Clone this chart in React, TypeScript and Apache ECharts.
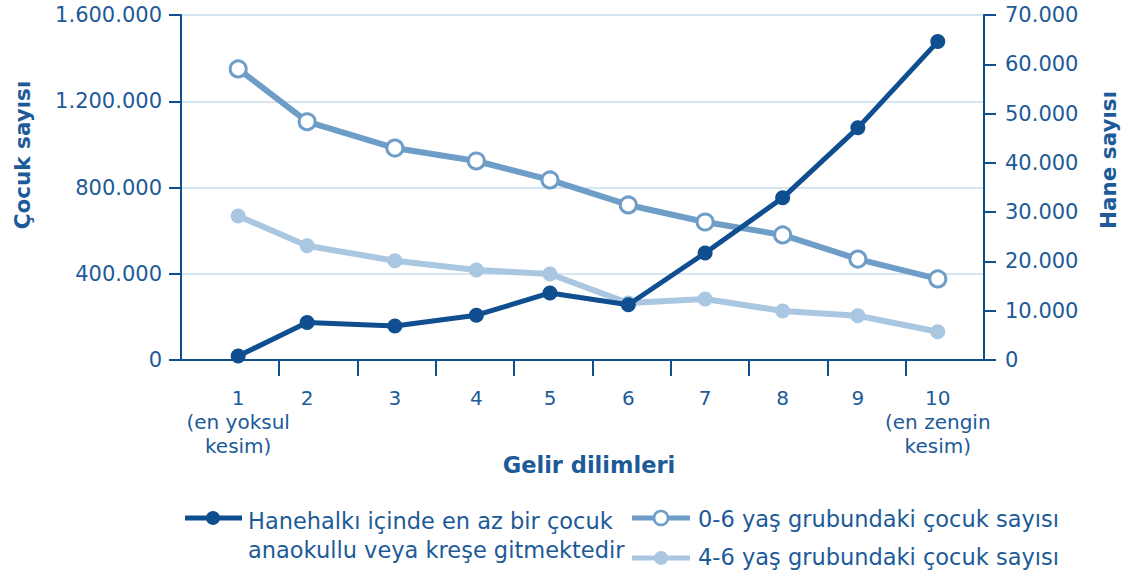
import React, { useEffect, useRef } from "react";
import * as echarts from "echarts";

// Income deciles (position of each point along the horizontal axis)
const categories = ["1", "2", "3", "4", "5", "6", "7", "8", "9", "10"];
const categoryNotes: Record<number, string> = { 0: "(en yoksul\nkesim)", 9: "(en zengin\nkesim)" };
const xPositions = [0.73, 1.61, 2.73, 3.77, 4.71, 5.71, 6.69, 7.68, 8.64, 9.66];
const xTickPositions = [1.25, 2.25, 3.25, 4.25, 5.25, 6.25, 7.25, 8.25, 9.25];

// Households with at least one child in kindergarten / nursery (right axis)
const households = [800, 7600, 6900, 9100, 13600, 11200, 21700, 32900, 47100, 64600];
// Number of children aged 0-6 (left axis)
const children06 = [1350000, 1105000, 983000, 923000, 835000, 719000, 640000, 580000, 468000, 376000];
// Number of children aged 4-6 (left axis)
const children46 = [668000, 530000, 460000, 417000, 399000, 264000, 283000, 227000, 205000, 131000];

const leftMax = 1600000;
const leftInterval = 400000;
const rightMax = 70000;
const rightInterval = 10000;

const seriesNames = [
  "Hanehalkı içinde en az bir çocuk\nanaokullu veya kreşe gitmektedir",
  "0-6 yaş grubundaki çocuk sayısı",
  "4-6 yaş grubundaki çocuk sayısı",
];

const DARK = "#0f4f8f";
const TEXT = "#1d5a98";
const MID = "#6e9dc8";
const LIGHT = "#a9c7e0";
const GRID = "#c9ddee";
const FONT = "'DejaVu Sans', 'Open Sans', sans-serif";

const fmt = (v: number) => String(v).replace(/\B(?=(\d{3})+(?!\d))/g, ".");

export default function App() {
  const ref = useRef<HTMLDivElement>(null);
  useEffect(() => {
    if (!ref.current) return;
    const chart = echarts.init(ref.current, null, { renderer: "svg" });
    const pts = (vals: number[]) => xPositions.map((x, i) => [x, vals[i]]);
    chart.setOption({
      animation: false,
      backgroundColor: "#ffffff",
      textStyle: { fontFamily: FONT },
      grid: { left: 181, right: 144, top: 15, bottom: 221 },
      xAxis: {
        type: "value",
        min: 0,
        max: 10.25,
        splitLine: { show: false },
        axisLine: { show: true, lineStyle: { color: DARK, width: 2 } },
        axisTick: {
          show: true,
          length: 16,
          customValues: xTickPositions,
          lineStyle: { color: DARK, width: 2 },
        },
        axisLabel: {
          customValues: xPositions,
          margin: 26,
          color: TEXT,
          fontFamily: FONT,
          fontSize: 20,
          lineHeight: 24,
          align: "center",
          verticalAlign: "top",
          formatter: (v: number) => {
            let idx = 0;
            let best = Infinity;
            xPositions.forEach((x, i) => {
              const d = Math.abs(x - v);
              if (d < best) { best = d; idx = i; }
            });
            const note = categoryNotes[idx];
            return note ? categories[idx] + "\n" + note : categories[idx];
          },
        },
      },
      yAxis: [
        {
          type: "value",
          position: "left",
          min: 0,
          max: leftMax,
          interval: leftInterval,
          axisLine: { show: true, lineStyle: { color: DARK, width: 2 } },
          axisTick: { show: true, length: 12, lineStyle: { color: DARK, width: 2 } },
          axisLabel: { color: TEXT, fontSize: 21, fontFamily: FONT, margin: 19, formatter: fmt },
          splitLine: { show: true, lineStyle: { color: GRID, width: 1.5 } },
        },
        {
          type: "value",
          position: "right",
          min: 0,
          max: rightMax,
          interval: rightInterval,
          axisLine: { show: true, lineStyle: { color: DARK, width: 2 } },
          axisTick: { show: true, length: 12, lineStyle: { color: DARK, width: 2 } },
          axisLabel: { color: TEXT, fontSize: 21, fontFamily: FONT, margin: 21, formatter: fmt },
          splitLine: { show: false },
        },
      ],
      series: [
        {
          name: seriesNames[2],
          type: "line",
          yAxisIndex: 0,
          data: pts(children46),
          symbol: "circle",
          symbolSize: 15,
          lineStyle: { color: LIGHT, width: 6 },
          itemStyle: { color: LIGHT },
          z: 2,
        },
        {
          name: seriesNames[1],
          type: "line",
          yAxisIndex: 0,
          data: pts(children06),
          symbol: "circle",
          symbolSize: 16,
          lineStyle: { color: MID, width: 6 },
          itemStyle: { color: "#ffffff", borderColor: MID, borderWidth: 3 },
          z: 3,
        },
        {
          name: seriesNames[0],
          type: "line",
          yAxisIndex: 1,
          data: pts(households),
          symbol: "circle",
          symbolSize: 15,
          lineStyle: { color: DARK, width: 5 },
          itemStyle: { color: DARK },
          z: 4,
        },
      ],
      graphic: [
        {
          type: "text",
          x: 22,
          y: 155,
          rotation: Math.PI / 2,
          style: {
            text: "Çocuk sayısı",
            fill: TEXT,
            font: `bold 21.5px ${FONT}`,
            textAlign: "center",
            textVerticalAlign: "middle",
          },
        },
        {
          type: "text",
          x: 1108,
          y: 160,
          rotation: Math.PI / 2,
          style: {
            text: "Hane sayısı",
            fill: TEXT,
            font: `bold 21.5px ${FONT}`,
            textAlign: "center",
            textVerticalAlign: "middle",
          },
        },
        {
          type: "text",
          x: 589,
          y: 465,
          style: {
            text: "Gelir dilimleri",
            fill: TEXT,
            font: `bold 22.5px ${FONT}`,
            textAlign: "center",
            textVerticalAlign: "middle",
          },
        },
        // Legend
        { type: "line", shape: { x1: 185, y1: 518, x2: 242, y2: 518 }, style: { stroke: DARK, lineWidth: 5 } },
        { type: "circle", shape: { cx: 213, cy: 518, r: 7 }, style: { fill: DARK } },
        {
          type: "text",
          x: 248,
          y: 535,
          style: {
            text: seriesNames[0],
            fill: TEXT,
            font: `22.5px ${FONT}`,
            lineHeight: 29,
            textAlign: "left",
            textVerticalAlign: "middle",
          },
        },
        { type: "line", shape: { x1: 632, y1: 518, x2: 690, y2: 518 }, style: { stroke: MID, lineWidth: 5 } },
        { type: "circle", shape: { cx: 661, cy: 518, r: 7 }, style: { fill: "#ffffff", stroke: MID, lineWidth: 2.5 } },
        {
          type: "text",
          x: 698,
          y: 519,
          style: {
            text: seriesNames[1],
            fill: TEXT,
            font: `22.5px ${FONT}`,
            textAlign: "left",
            textVerticalAlign: "middle",
          },
        },
        { type: "line", shape: { x1: 632, y1: 558, x2: 690, y2: 558 }, style: { stroke: LIGHT, lineWidth: 5 } },
        { type: "circle", shape: { cx: 661, cy: 558, r: 7 }, style: { fill: LIGHT } },
        {
          type: "text",
          x: 698,
          y: 557,
          style: {
            text: seriesNames[2],
            fill: TEXT,
            font: `22.5px ${FONT}`,
            textAlign: "left",
            textVerticalAlign: "middle",
          },
        },
      ],
    });
    return () => chart.dispose();
  }, []);
  return (
    <div
      ref={ref}
      style={{ position: "fixed", left: 0, top: 0, width: 1128, height: 581 }}
    />
  );
}
